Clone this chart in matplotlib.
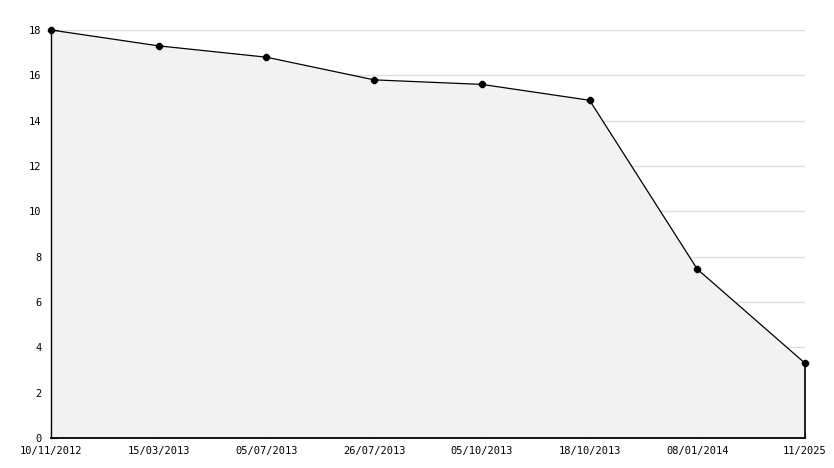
import matplotlib.pyplot as plt

dates = ['10/11/2012', '15/03/2013', '05/07/2013', '26/07/2013',
         '05/10/2013', '18/10/2013', '08/01/2014', '11/2025']
values = [18.0, 17.3, 16.8, 15.8, 15.6, 14.9, 7.45, 3.3]

plt.rcParams['font.family'] = 'DejaVu Sans Mono'

fig = plt.figure(figsize=(8.34, 4.68), dpi=100)
ax = fig.add_axes([51 / 834, 1 - 438 / 468, 754 / 834, 408 / 468])

x = list(range(len(values)))
ax.fill_between(x, values, 0, color='#f2f2f2', lw=0, zorder=1)
ax.plot([x[-1], x[-1]], [0, values[-1]], color='black', lw=1.2, clip_on=False, zorder=3)
ax.plot(x, values, color='black', lw=0.9, marker='8', markersize=5,
        clip_on=False, zorder=4)

ax.set_xlim(0, len(values) - 1)
ax.set_ylim(0, 18)
ax.set_yticks(range(0, 19, 2))
ax.set_yticks(range(1, 18, 2), minor=True)
ax.set_xticks(x)
ax.set_xticklabels(dates)
ax.grid(axis='y', color='#dddddd', lw=1, zorder=0)
ax.set_axisbelow(True)

for s in ['top', 'right']:
    ax.spines[s].set_visible(False)
ax.spines['left'].set_linewidth(1)
ax.spines['bottom'].set_linewidth(1.3)
ax.tick_params(axis='both', which='both', direction='in', labelsize=7.5, colors='black')
ax.tick_params(axis='both', which='major', length=5)
ax.tick_params(axis='y', which='minor', length=4)
ax.tick_params(axis='y', pad=7)
ax.tick_params(axis='x', pad=6)

fig.savefig('out.png', dpi=100)
